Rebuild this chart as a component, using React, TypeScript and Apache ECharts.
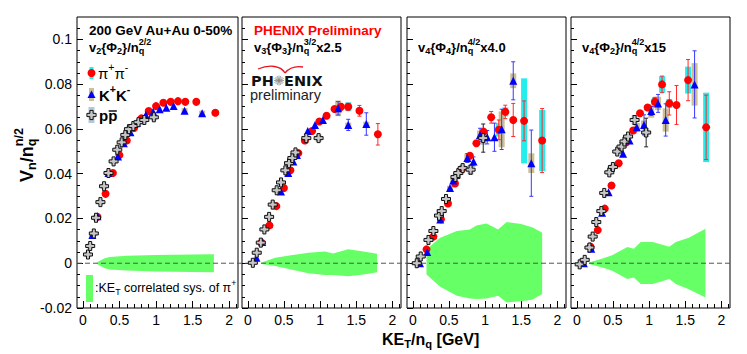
import React, { useEffect, useRef } from 'react';
import * as echarts from 'echarts';

const FONT = '"Liberation Sans", Arial, Helvetica, sans-serif';

// ---- axes ----
const X_MIN = -0.08;
const X_MAX = 2.12;
const Y_MIN = -0.02;
const Y_MAX = 0.11;
const X_MAJOR = [0, 0.5, 1, 1.5, 2];
const X_MINOR = [0, 0.1, 0.2, 0.3, 0.4, 0.5, 0.6, 0.7, 0.8, 0.9, 1, 1.1, 1.2, 1.3, 1.4, 1.5, 1.6, 1.7, 1.8, 1.9, 2, 2.1];
const Y_MAJOR = [-0.02, 0, 0.02, 0.04, 0.06, 0.08, 0.1];
const Y_MINOR = [-0.015, -0.01, -0.005, 0.005, 0.01, 0.015, 0.025, 0.03, 0.035, 0.045, 0.05, 0.055, 0.065, 0.07, 0.075, 0.085, 0.09, 0.095, 0.105];

// ---- panel 1 : v2{Phi2}/nq^(2/2) ----
const P1_PI_KE = [0.20, 0.31, 0.41, 0.50, 0.60, 0.70, 0.80, 0.90, 1.00, 1.10, 1.20, 1.30, 1.40, 1.55, 1.81];
const P1_PI_V = [0.0207, 0.0310, 0.0403, 0.0483, 0.0548, 0.0604, 0.0647, 0.0680, 0.0702, 0.0717, 0.0721, 0.0724, 0.0721, 0.0721, 0.0672];
const P1_PI_STAT = [0, 0, 0, 0, 0, 0, 0, 0, 0, 0, 0, 0, 0, 0, 0];
const P1_PI_SYS = [0, 0, 0, 0, 0, 0, 0, 0, 0, 0, 0, 0, 0, 0, 0.0012];
const P1_K_KE = [0.13, 0.20, 0.35, 0.48, 0.56, 0.65, 0.74, 0.86, 0.96, 1.05, 1.14, 1.24, 1.39, 1.63];
const P1_K_V = [0.0126, 0.0210, 0.0403, 0.0477, 0.0536, 0.0585, 0.0628, 0.0662, 0.0677, 0.0688, 0.0695, 0.0702, 0.0681, 0.0670];
const P1_K_STAT = [0, 0, 0, 0, 0, 0, 0, 0, 0, 0, 0, 0, 0, 0];
const P1_K_SYS = [0.001, 0.001, 0, 0, 0, 0, 0, 0, 0, 0, 0, 0, 0.0012, 0.0012];
const P1_P_KE = [0.07, 0.10, 0.15, 0.18, 0.24, 0.29, 0.35, 0.42, 0.47, 0.53, 0.58, 0.63, 0.69, 0.76, 0.84, 0.97];
const P1_P_V = [0.0039, 0.0077, 0.0133, 0.0203, 0.0273, 0.0344, 0.0403, 0.0455, 0.0507, 0.0540, 0.0573, 0.0599, 0.0613, 0.0630, 0.0640, 0.0652];
const P1_P_STAT = [0, 0, 0, 0, 0, 0, 0, 0, 0, 0, 0, 0, 0, 0, 0, 0];
const P1_P_SYS = [0.0012, 0.0012, 0.0012, 0.0012, 0.0012, 0.0012, 0.0012, 0.0012, 0.0012, 0.0012, 0.0012, 0.0012, 0.0012, 0.0012, 0.0012, 0.0014];
const BAND1_X = [0.20, 0.30, 0.37, 0.60, 1.00, 1.50, 1.79];
const BAND1_HI = [0.0005, 0.0022, 0.0028, 0.0033, 0.0037, 0.0039, 0.0040];
const BAND1_LO = [-0.0005, -0.0022, -0.0028, -0.0033, -0.0037, -0.0039, -0.0040];

// ---- panel 2 : v3{Phi3}/nq^(3/2) x2.5 ----
const P2_PI_KE = [0.19, 0.30, 0.395, 0.50, 0.59, 0.70, 0.79, 0.89, 0.99, 1.09, 1.20, 1.29, 1.39, 1.545, 1.80];
const P2_PI_V = [0.0092, 0.0169, 0.0255, 0.0336, 0.0415, 0.0492, 0.0548, 0.0591, 0.0633, 0.0659, 0.0689, 0.0699, 0.0699, 0.0681, 0.0576];
const P2_PI_STAT = [0, 0, 0, 0, 0, 0, 0, 0, 0, 0, 0.001, 0.0015, 0.0015, 0.0024, 0.0048];
const P2_PI_SYS = [0, 0, 0, 0, 0, 0, 0, 0, 0, 0, 0, 0.001, 0.002, 0.001, 0.001];
const P2_K_KE = [0.12, 0.20, 0.46, 0.56, 0.63, 0.68, 0.83, 0.93, 1.04, 1.25, 1.39, 1.64];
const P2_K_V = [0.0025, 0.0095, 0.0321, 0.0403, 0.0455, 0.0484, 0.0591, 0.0618, 0.0640, 0.0692, 0.0618, 0.0622];
const P2_K_STAT = [0, 0, 0, 0, 0, 0, 0, 0, 0, 0.003, 0.0025, 0.005];
const P2_K_SYS = [0, 0, 0, 0, 0, 0, 0, 0, 0, 0.0035, 0.001, 0.001];
const P2_P_KE = [0.07, 0.124, 0.18, 0.23, 0.295, 0.345, 0.40, 0.46, 0.52, 0.57, 0.617, 0.66, 0.81, 0.98];
const P2_P_V = [0.0002, 0.0047, 0.0092, 0.0151, 0.0207, 0.0262, 0.0326, 0.0361, 0.0415, 0.0447, 0.0470, 0.0495, 0.0559, 0.0559];
const P2_P_STAT = [0, 0, 0, 0, 0, 0, 0, 0, 0, 0, 0, 0, 0, 0.0012];
const P2_P_SYS = [0.001, 0.001, 0.001, 0.001, 0.001, 0.001, 0.001, 0.001, 0.001, 0.001, 0.001, 0.001, 0.0012, 0.0016];
const BAND2_X = [0.19, 0.38, 0.60, 0.84, 1.07, 1.18, 1.39, 1.60, 1.79];
const BAND2_HI = [0.0003, 0.0025, 0.0036, 0.0047, 0.0052, 0.0044, 0.0062, 0.0052, 0.0042];
const BAND2_LO = [-0.0003, -0.0012, -0.0028, -0.0045, -0.0053, -0.0053, -0.0058, -0.0050, -0.0040];

// ---- panel 3 : v4{Phi4}/nq^(4/2) x4.0 ----
const P3_PI_KE = [0.19, 0.285, 0.39, 0.487, 0.584, 0.68, 0.79, 0.88, 0.98, 1.085, 1.19, 1.28, 1.39, 1.54, 1.79];
const P3_PI_V = [0.0062, 0.0119, 0.0196, 0.0267, 0.0356, 0.0421, 0.0480, 0.0536, 0.0588, 0.0652, 0.0596, 0.0676, 0.0640, 0.0636, 0.0548];
const P3_PI_STAT = [0, 0, 0, 0, 0, 0, 0, 0, 0, 0.0026, 0.0044, 0.003, 0.0074, 0.0089, 0.0143];
const P3_PI_SYS = [0, 0, 0, 0, 0, 0, 0, 0, 0, 0.001, 0.003, 0.002, 0.001, 0.019, 0.0137];
const P3_K_KE = [0.10, 0.20, 0.38, 0.515, 0.56, 0.755, 0.84, 0.93, 1.03, 1.13, 1.23, 1.39, 1.64];
const P3_K_V = [0.0000, 0.0050, 0.0195, 0.0336, 0.0370, 0.0470, 0.0455, 0.0573, 0.0563, 0.0563, 0.0598, 0.0815, 0.0447];
const P3_K_STAT = [0, 0, 0, 0, 0, 0.002, 0.002, 0.003, 0.003, 0.0063, 0.009, 0.0085, 0.0148];
const P3_K_SYS = [0, 0, 0, 0.001, 0.001, 0.002, 0, 0.002, 0, 0, 0.008, 0.0033, 0.0044];
const P3_P_KE = [0.055, 0.11, 0.217, 0.285, 0.363, 0.40, 0.46, 0.59, 0.63, 0.69, 0.80, 0.975];
const P3_P_V = [0.0000, 0.0030, 0.0104, 0.0144, 0.0213, 0.0233, 0.0287, 0.0385, 0.0403, 0.0425, 0.0418, 0.0559];
const P3_P_STAT = [0, 0, 0, 0, 0, 0, 0, 0, 0, 0, 0.002, 0.0063];
const P3_P_SYS = [0.001, 0.001, 0.001, 0.001, 0.001, 0.001, 0.001, 0.0012, 0.0012, 0.0015, 0.002, 0.003];
const BAND3_X = [0.19, 0.38, 0.61, 0.79, 0.88, 1.02, 1.09, 1.18, 1.30, 1.50, 1.66, 1.79];
const BAND3_HI = [0.0062, 0.0114, 0.0144, 0.0151, 0.0169, 0.0178, 0.0166, 0.0151, 0.0184, 0.0175, 0.0160, 0.0136];
const BAND3_LO = [-0.0050, -0.0105, -0.0145, -0.0158, -0.0160, -0.0158, -0.0152, -0.0145, -0.0175, -0.0170, -0.0162, -0.0138];

// ---- panel 4 : v4{Phi2}/nq^(4/2) x15 ----
const P4_PI_KE = [0.19, 0.29, 0.387, 0.48, 0.58, 0.68, 0.78, 0.875, 0.98, 1.08, 1.18, 1.28, 1.38, 1.54, 1.79];
const P4_PI_V = [0.0074, 0.0148, 0.0244, 0.0347, 0.0447, 0.0539, 0.0593, 0.0670, 0.0696, 0.0721, 0.0799, 0.0714, 0.0707, 0.0818, 0.0607];
const P4_PI_STAT = [0, 0, 0, 0, 0, 0, 0, 0, 0, 0.002, 0.0037, 0.0052, 0.0087, 0.0092, 0.0144];
const P4_PI_SYS = [0.001, 0, 0, 0, 0, 0, 0, 0, 0.001, 0.002, 0.0037, 0.002, 0.001, 0.006, 0.0155];
const P4_K_KE = [0.097, 0.20, 0.35, 0.44, 0.64, 0.73, 0.83, 0.93, 1.03, 1.125, 1.23, 1.63];
const P4_K_V = [0.0000, 0.0065, 0.0225, 0.0317, 0.0489, 0.0548, 0.0607, 0.0618, 0.0680, 0.0714, 0.0640, 0.0799];
const P4_K_STAT = [0, 0, 0, 0, 0, 0, 0, 0.0045, 0.002, 0.004, 0.0072, 0.015];
const P4_K_SYS = [0, 0.001, 0, 0, 0, 0, 0.002, 0.002, 0.003, 0.003, 0.0052, 0.0095];
const P4_P_KE = [0.04, 0.11, 0.175, 0.22, 0.27, 0.34, 0.38, 0.45, 0.50, 0.56, 0.62, 0.66, 0.71, 0.80, 0.96];
const P4_P_V = [-0.0005, 0.0015, 0.0070, 0.0119, 0.0184, 0.0233, 0.0314, 0.0406, 0.0430, 0.0499, 0.0521, 0.0544, 0.0566, 0.0640, 0.0584];
const P4_P_STAT = [0, 0, 0, 0, 0, 0, 0, 0, 0, 0, 0, 0, 0, 0.002, 0.0064];
const P4_P_SYS = [0.001, 0.001, 0.001, 0.001, 0.001, 0.001, 0.001, 0.0012, 0.0012, 0.0012, 0.0012, 0.0012, 0.0012, 0.002, 0.002];
const BAND4_X = [0.17, 0.355, 0.49, 0.70, 0.79, 0.885, 1.05, 1.28, 1.37, 1.55, 1.78];
const BAND4_HI = [0.0003, 0.0021, 0.0036, 0.0073, 0.0065, 0.0095, 0.0095, 0.0074, 0.0095, 0.0114, 0.0154];
const BAND4_LO = [-0.0003, -0.0019, -0.0034, -0.0071, -0.0064, -0.0093, -0.0093, -0.0071, -0.0093, -0.0116, -0.0153];

// ---- layout (pixels) ----
const GRID_TOP = 17;
const GRID_H = 291;
const GRID_LEFT = [77, 242, 407, 571];
const GRID_W = [161, 159, 159, 159];

const CROSS = 'path://M3,0H6V3H9V6H6V9H3V6H0V3H3Z';
const STY: any = {
  pi: { symbol: 'circle', size: 8, color: '#ff0000', border: '#ff0000', err: '#ff2a2a', sys: '#22eeee' },
  K: { symbol: 'triangle', size: 8, color: '#0000ff', border: '#0000ff', err: '#3838ff', sys: '#ccbf90' },
  p: { symbol: CROSS, size: 9, color: '#c6c6c6', border: '#111111', err: '#222222', sys: '#b6c8d8' },
};

const PANELS = [
  {
    band: [BAND1_X, BAND1_HI, BAND1_LO],
    sp: { pi: [P1_PI_KE, P1_PI_V, P1_PI_STAT, P1_PI_SYS], K: [P1_K_KE, P1_K_V, P1_K_STAT, P1_K_SYS], p: [P1_P_KE, P1_P_V, P1_P_STAT, P1_P_SYS] },
  },
  {
    band: [BAND2_X, BAND2_HI, BAND2_LO],
    sp: { pi: [P2_PI_KE, P2_PI_V, P2_PI_STAT, P2_PI_SYS], K: [P2_K_KE, P2_K_V, P2_K_STAT, P2_K_SYS], p: [P2_P_KE, P2_P_V, P2_P_STAT, P2_P_SYS] },
  },
  {
    band: [BAND3_X, BAND3_HI, BAND3_LO],
    sp: { pi: [P3_PI_KE, P3_PI_V, P3_PI_STAT, P3_PI_SYS], K: [P3_K_KE, P3_K_V, P3_K_STAT, P3_K_SYS], p: [P3_P_KE, P3_P_V, P3_P_STAT, P3_P_SYS] },
  },
  {
    band: [BAND4_X, BAND4_HI, BAND4_LO],
    sp: { pi: [P4_PI_KE, P4_PI_V, P4_PI_STAT, P4_PI_SYS], K: [P4_K_KE, P4_K_V, P4_K_STAT, P4_K_SYS], p: [P4_P_KE, P4_P_V, P4_P_STAT, P4_P_SYS] },
  },
];

// ---- text helpers ----
let measureCtx: any = null;
function tw(t: string, size: number, bold: boolean, family = FONT) {
  if (!measureCtx) measureCtx = document.createElement('canvas').getContext('2d');
  measureCtx.font = `${bold ? 'bold ' : ''}${size}px ${family}`;
  return measureCtx.measureText(t).width;
}
type Tok = [string, number, boolean?];
function mathText(x0: number, y0: number, toks: Tok[], size: number, bold: boolean, color: string, family = FONT, lh?: number) {
  const els: any[] = [];
  let x = x0;
  let pend = 0;
  for (const [t, m, keep] of toks) {
    const s = m === 0 ? size : size * 0.7;
    const dy = m === 1 ? size * 0.33 : m === 2 ? -size * 0.4 : 0;
    const w = tw(t, s, bold, family);
    const style: any = { text: t, fill: color, fontSize: s, fontWeight: bold ? 'bold' : 'normal', fontFamily: family, align: 'left', verticalAlign: 'middle' };
    if (lh) style.lineHeight = lh;
    els.push({ type: 'text', x, y: y0 + dy, z: 10, style });
    if (keep) pend = w;
    else { x += Math.max(w, pend); pend = 0; }
  }
  return els;
}

function buildSeries() {
  const series: any[] = [];
  PANELS.forEach((P, i) => {
    const ax = { xAxisIndex: 2 * i, yAxisIndex: 2 * i };
    const [bx, bhi, blo] = P.band;
    series.push({
      type: 'custom', ...ax, z: 1, silent: true, clip: false,
      data: bx.map((x, j) => [x, bhi[j], blo[j]]),
      renderItem: (params: any, api: any) => {
        if (params.dataIndex !== 0) return null;
        const pts: number[][] = [];
        for (let j = 0; j < bx.length; j++) pts.push(api.coord([bx[j], bhi[j]]));
        for (let j = bx.length - 1; j >= 0; j--) pts.push(api.coord([bx[j], blo[j]]));
        return { type: 'polygon', shape: { points: pts }, style: { fill: '#66ff66', stroke: 'none' } };
      },
    });
    const order = ['pi', 'K', 'p'];
    // systematic boxes
    order.forEach((k) => {
      const [ke, v, st, sy] = (P.sp as any)[k];
      series.push({
        type: 'custom', ...ax, z: 3, silent: true, clip: false,
        data: ke.map((x: number, j: number) => [x, v[j], st[j], sy[j]]),
        renderItem: (params: any, api: any) => {
          const s = api.value(3);
          if (!(s > 0)) return null;
          const t = api.coord([api.value(0), api.value(1) + s]);
          const b = api.coord([api.value(0), api.value(1) - s]);
          return { type: 'rect', shape: { x: t[0] - 3, y: t[1], width: 6, height: b[1] - t[1] }, style: { fill: STY[k].sys } };
        },
      });
    });
    // stat error bars
    order.forEach((k) => {
      const [ke, v, st, sy] = (P.sp as any)[k];
      series.push({
        type: 'custom', ...ax, z: 4, silent: true, clip: false,
        data: ke.map((x: number, j: number) => [x, v[j], st[j], sy[j]]),
        renderItem: (params: any, api: any) => {
          const e = api.value(2);
          if (!(e > 0)) return null;
          const t = api.coord([api.value(0), api.value(1) + e]);
          const b = api.coord([api.value(0), api.value(1) - e]);
          const st2 = { stroke: STY[k].err, lineWidth: 1 };
          return {
            type: 'group',
            children: [
              { type: 'line', shape: { x1: t[0], y1: t[1], x2: b[0], y2: b[1] }, style: st2 },
              { type: 'line', shape: { x1: t[0] - 2, y1: t[1], x2: t[0] + 2, y2: t[1] }, style: st2 },
              { type: 'line', shape: { x1: b[0] - 2, y1: b[1], x2: b[0] + 2, y2: b[1] }, style: st2 },
            ],
          };
        },
      });
    });
    // markers
    order.forEach((k) => {
      const [ke, v] = (P.sp as any)[k];
      series.push({
        type: 'scatter', ...ax, z: 5, silent: true,
        symbol: STY[k].symbol, symbolSize: STY[k].size,
        itemStyle: { color: STY[k].color, borderColor: STY[k].border, borderWidth: k === 'p' ? 1 : 0, opacity: 1 },
        data: ke.map((x: number, j: number) => [x, v[j]]),
      });
    });
  });
  return series;
}

function buildAxes() {
  const xAxis: any[] = [];
  const yAxis: any[] = [];
  for (let i = 0; i < 4; i++) {
    const baseX = {
      type: 'value', gridIndex: i, position: 'bottom', min: X_MIN, max: X_MAX,
      axisLine: { show: false, onZero: false }, splitLine: { show: false },
    };
    xAxis.push({
      ...baseX,
      axisTick: { show: true, inside: true, length: 7, customValues: X_MAJOR, lineStyle: { color: '#000', width: 1 } },
      axisLabel: { show: true, customValues: X_MAJOR, fontSize: 14, color: '#000', fontFamily: FONT, margin: 5, formatter: (v: number) => String(v) },
    });
    xAxis.push({
      ...baseX,
      axisTick: { show: true, inside: true, length: 4, customValues: X_MINOR, lineStyle: { color: '#000', width: 1 } },
      axisLabel: { show: false },
    });
    const baseY = {
      type: 'value', gridIndex: i, position: 'left', min: Y_MIN, max: Y_MAX,
      axisLine: { show: false, onZero: false }, splitLine: { show: false },
    };
    yAxis.push({
      ...baseY,
      axisTick: { show: true, inside: true, length: 6, customValues: Y_MAJOR, lineStyle: { color: '#000', width: 1 } },
      axisLabel: { show: i === 0, customValues: Y_MAJOR, fontSize: 14, color: '#000', fontFamily: FONT, margin: 5, formatter: (v: number) => String(v) },
    });
    yAxis.push({
      ...baseY,
      axisTick: { show: true, inside: true, length: 3, customValues: Y_MINOR, lineStyle: { color: '#000', width: 1 } },
      axisLabel: { show: false },
    });
  }
  return { xAxis, yAxis };
}

function crossPts(cx: number, cy: number, a: number, h: number) {
  return [
    [cx - a, cy - h], [cx + a, cy - h], [cx + a, cy - a], [cx + h, cy - a], [cx + h, cy + a], [cx + a, cy + a],
    [cx + a, cy + h], [cx - a, cy + h], [cx - a, cy + a], [cx - h, cy + a], [cx - h, cy - a], [cx - a, cy - a],
  ];
}

function buildGraphics(zeroY: number, xLeft: number, xRight: number) {
  const els: any[] = [];
  const BLACK = '#000';
  // zero dashed line
  els.push({ type: 'line', z: 2, shape: { x1: xLeft, y1: zeroY, x2: xRight, y2: zeroY }, style: { stroke: '#555', lineWidth: 1, lineDash: [5, 3] } });
  // panel 1 header
  els.push(...mathText(89, 30, [['200 GeV Au+Au 0-50%', 0]], 13.5, true, BLACK));
  els.push(...mathText(89, 47, [['v', 0], ['2', 1], ['{Φ', 0], ['2', 1], ['}/n', 0], ['q', 1, true], ['2/2', 2]], 13, true, BLACK));
  // legend
  els.push({ type: 'rect', z: 9, shape: { x: 89.5, y: 67, width: 4, height: 12 }, style: { fill: STY.pi.sys } });
  els.push({ type: 'circle', z: 10, shape: { cx: 91.5, cy: 73, r: 4 }, style: { fill: STY.pi.color } });
  els.push({ type: 'rect', z: 9, shape: { x: 89, y: 88, width: 5, height: 13 }, style: { fill: STY.K.sys } });
  els.push({ type: 'polygon', z: 10, shape: { points: [[91.5, 90.5], [95.5, 98], [87.5, 98]] }, style: { fill: STY.K.color } });
  els.push({ type: 'rect', z: 9, shape: { x: 88.5, y: 107, width: 6, height: 16 }, style: { fill: STY.p.sys } });
  els.push({ type: 'polygon', z: 10, shape: { points: crossPts(91.5, 115, 1.6, 4.6) }, style: { fill: STY.p.color, stroke: '#111', lineWidth: 1 } });
  els.push(...mathText(98, 73, [['π', 0], ['+', 2], ['π', 0], ['-', 2]], 15, false, BLACK));
  els.push(...mathText(99, 95, [['K', 0], ['+', 2], ['K', 0], ['-', 2]], 15, true, BLACK));
  els.push(...mathText(99, 115, [['pp', 0]], 15, true, BLACK));
  const wp = tw('p', 15, true);
  els.push({ type: 'line', z: 10, shape: { x1: 99 + wp + 0.5, y1: 111, x2: 99 + 2 * wp - 0.5, y2: 111 }, style: { stroke: BLACK, lineWidth: 1.4 } });
  // correlated sys legend
  els.push({ type: 'rect', z: 9, shape: { x: 86, y: 275, width: 7, height: 27 }, style: { fill: '#66ff66' } });
  els.push(...mathText(95, 288, [[':KE', 0], ['T', 1], [' correlated sys. of π', 0], ['+', 2]], 12.5, false, BLACK));
  // panel 2 header
  els.push(...mathText(254, 30, [['PHENIX Preliminary', 0]], 13.5, true, '#ff0000'));
  els.push(...mathText(254, 47, [['v', 0], ['3', 1], ['{Φ', 0], ['3', 1], ['}/n', 0], ['q', 1, true], ['3/2', 2], ['x2.5', 0]], 13, true, BLACK));
  // PHENIX logo
  els.push({ type: 'bezierCurve', z: 10, shape: { x1: 258, y1: 69, cpx1: 270, cpy1: 64, cpx2: 281, cpy2: 66, x2: 285, y2: 73 }, style: { stroke: '#e8141e', lineWidth: 1.3, fill: 'none' } });
  els.push({ type: 'bezierCurve', z: 10, shape: { x1: 285, y1: 73, cpx1: 289, cpy1: 68, cpx2: 296, cpy2: 66, x2: 303, y2: 67 }, style: { stroke: '#e8141e', lineWidth: 1.3, fill: 'none' } });
  els.push(...mathText(251, 80.5, [['PH', 0]], 14.5, true, '#111', '"DejaVu Sans", sans-serif', 13));
  els.push(...mathText(284, 80.5, [['ENIX', 0]], 14.5, true, '#111', '"DejaVu Sans", sans-serif', 13));
  const sc = [279, 80.5];
  for (let a = 0; a < 8; a++) {
    const ang = (a * Math.PI) / 8;
    els.push({ type: 'line', z: 10, shape: { x1: sc[0] - 5 * Math.cos(ang), y1: sc[1] - 5 * Math.sin(ang), x2: sc[0] + 5 * Math.cos(ang), y2: sc[1] + 5 * Math.sin(ang) }, style: { stroke: '#8a8a8a', lineWidth: 0.8 } });
  }
  els.push(...mathText(250, 95, [['preliminary', 0]], 14.5, false, '#222', FONT, 13));
  // panel 3 / 4 headers
  els.push(...mathText(418, 47, [['v', 0], ['4', 1], ['{Φ', 0], ['4', 1], ['}/n', 0], ['q', 1, true], ['4/2', 2], ['x4.0', 0]], 13, true, BLACK));
  els.push(...mathText(582, 47, [['v', 0], ['4', 1], ['{Φ', 0], ['2', 1], ['}/n', 0], ['q', 1, true], ['4/2', 2], ['x15', 0]], 13, true, BLACK));
  // axis titles
  els.push(...mathText(382, 339, [['KE', 0], ['T', 1], ['/n', 0], ['q', 1], [' [GeV]', 0]], 16, true, BLACK));
  els.push({
    type: 'group', x: 26.5, y: 182, rotation: Math.PI / 2, z: 10,
    children: mathText(0, 0, [['V', 0], ['n', 1], ['/n', 0], ['q', 1, true], ['n/2', 2]], 18, true, BLACK),
  });
  return els;
}

export default function App() {
  const ref = useRef<HTMLDivElement>(null);
  useEffect(() => {
    if (!ref.current) return;
    const chart = echarts.init(ref.current, null, { renderer: 'svg' });
    const { xAxis, yAxis } = buildAxes();
    chart.setOption({
      animation: false,
      backgroundColor: '#ffffff',
      grid: GRID_LEFT.map((l, i) => ({
        left: l, top: GRID_TOP, width: GRID_W[i], height: GRID_H,
        show: true, borderColor: '#000', borderWidth: 1, backgroundColor: 'transparent',
      })),
      xAxis,
      yAxis,
      series: buildSeries(),
    });
    const a = chart.convertToPixel({ xAxisIndex: 0, yAxisIndex: 0 } as any, [X_MIN, 0]) as number[];
    const b = chart.convertToPixel({ xAxisIndex: 6, yAxisIndex: 6 } as any, [X_MAX, 0]) as number[];
    chart.setOption({ graphic: { elements: buildGraphics(a[1], a[0], b[0] + 2) } });
    return () => chart.dispose();
  }, []);
  return <div ref={ref} style={{ position: 'fixed', left: 0, top: 0, width: 747, height: 354 }} />;
}
